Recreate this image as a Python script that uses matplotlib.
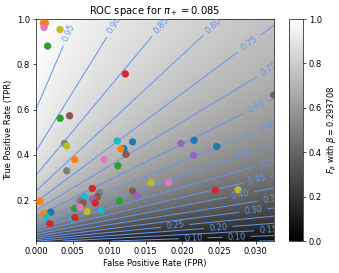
import numpy as np
import matplotlib
matplotlib.use("Agg")
import matplotlib.pyplot as plt

pi_pos = 0.085
beta = 0.293708

fpr = [0.0010, 0.0013, 0.0011, 0.0033, 0.0016, 0.0033, 0.0046, 0.0039, 0.0042, 0.0053,
       0.0093, 0.0042, 0.0077, 0.00055, 0.0087, 0.0066, 0.0084, 0.0060, 0.0077, 0.00646,
       0.0081, 0.0053, 0.0060, 0.0070, 0.0087, 0.0089, 0.0011, 0.00205, 0.00146, 0.0050,
       0.00533, 0.0019, 0.0111, 0.0132, 0.0120, 0.0116, 0.0123, 0.0198, 0.0216, 0.0215,
       0.0112, 0.0157, 0.0181, 0.0132, 0.0138, 0.0114, 0.0247, 0.0245, 0.0276, 0.0122,
       0.0325]
tpr = [0.982, 0.982, 0.963, 0.954, 0.881, 0.562, 0.573, 0.451, 0.440, 0.380,
       0.380, 0.330, 0.252, 0.196, 0.234, 0.216, 0.216, 0.200, 0.206, 0.188,
       0.188, 0.163, 0.170, 0.150, 0.159, 0.155, 0.141, 0.148, 0.124, 0.119,
       0.124, 0.097, 0.462, 0.458, 0.428, 0.427, 0.403, 0.451, 0.465, 0.398,
       0.352, 0.278, 0.278, 0.241, 0.219, 0.197, 0.437, 0.244, 0.246, 0.758,
       0.665]
colors = ["tab:orange", "tab:orange", "tab:pink", "tab:olive", "tab:green", "tab:green", "tab:brown",
          "tab:gray", "tab:olive", "tab:orange", "tab:pink", "tab:gray", "tab:red", "tab:orange",
          "tab:gray", "tab:cyan", "tab:brown", "tab:gray", "tab:purple", "tab:brown", "tab:red",
          "tab:green", "tab:pink", "tab:olive", "tab:purple", "tab:cyan", "tab:orange", "tab:blue",
          "tab:cyan", "tab:cyan", "tab:red", "tab:red", "tab:cyan", "tab:blue", "tab:blue",
          "tab:orange", "tab:brown", "tab:purple", "tab:blue", "tab:purple", "tab:green",
          "tab:olive", "tab:pink", "tab:brown", "tab:purple", "tab:green", "tab:blue", "tab:red",
          "tab:olive", "tab:red", "tab:brown"]

levels = np.round(np.arange(0.05, 0.96, 0.05), 2)
label_fpr = [0.0215, 0.0274, 0.0317, 0.0249, 0.0190, 0.0297, 0.0322, 0.0279, 0.0301, 0.0317,
             0.0283, 0.0317, 0.0301, 0.0317, 0.0290, 0.0242, 0.0172, 0.0108, 0.00437]
label_tpr = [0.023, 0.045, 0.072, 0.085, 0.093, 0.163, 0.208, 0.232, 0.296, 0.369,
             0.409, 0.528, 0.617, 0.786, 0.897, 0.975, 0.970, 0.973, 0.943]
x_max = 0.0325
y_min = 0.02

fig = plt.figure(figsize=(339/60, 273/60), dpi=60)
ax = fig.add_axes([0.106, 0.117, 0.702, 0.813])
cax = fig.add_axes([0.853, 0.117, 0.041, 0.813])

gx = np.linspace(0, x_max, 400)
gy = np.linspace(y_min, 1.0, 400)
X, Y = np.meshgrid(gx, gy)
P = pi_pos * Y / (pi_pos * Y + (1 - pi_pos) * X)
b2 = beta ** 2
F = (1 + b2) * P * Y / (b2 * P + Y)

mesh = ax.pcolormesh(X, Y, F, cmap="gray", vmin=0, vmax=1, shading="auto")
cs = ax.contour(X, Y, F, levels=levels, colors="#6495ED", linewidths=1.2)
ax.clabel(cs, fmt="%.2f", fontsize=10, manual=list(zip(label_fpr, label_tpr)))

ax.scatter(fpr, tpr, c=colors, s=60, zorder=3)
ax.set_xlim(0, x_max)
ax.set_ylim(y_min, 1.0)
ax.set_xlabel("False Positive Rate (FPR)")
ax.set_ylabel("True Positive Rate (TPR)")
ax.set_title(r"ROC space for $\pi_+ = 0.085$")
ax.set_xticks([0, 0.005, 0.01, 0.015, 0.02, 0.025, 0.03])
ax.set_yticks([0.2, 0.4, 0.6, 0.8, 1.0])

cb = fig.colorbar(mesh, cax=cax)
cb.set_label(r"$F_\beta$ with $\beta = 0.293708$")
cb.set_ticks([0, 0.2, 0.4, 0.6, 0.8, 1.0])

fig.savefig("out.png", dpi=60)
